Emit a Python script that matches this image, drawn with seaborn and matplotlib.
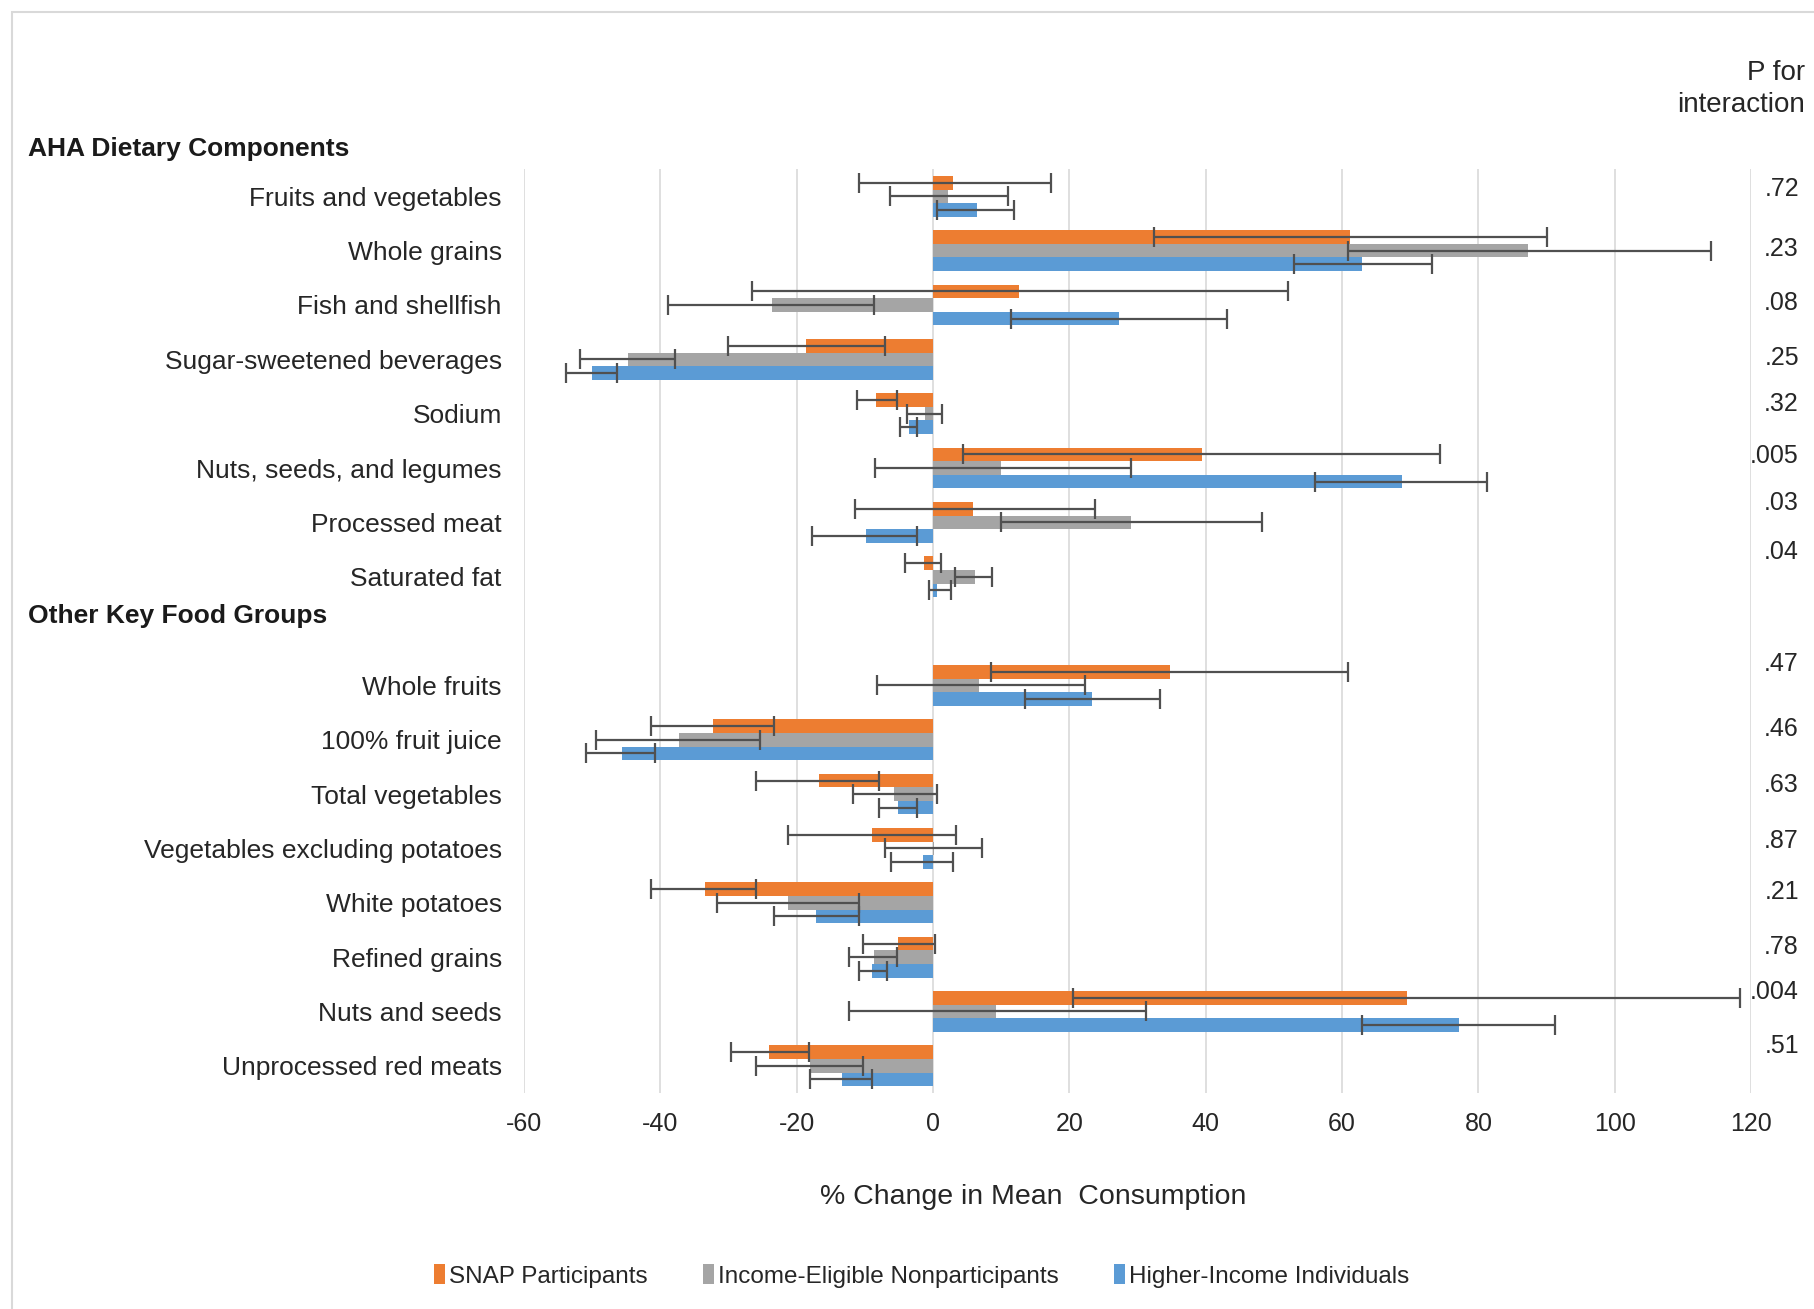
import matplotlib
matplotlib.use('Agg')
import matplotlib.pyplot as plt
import pandas as pd
import seaborn as sns
from matplotlib.patches import Rectangle
from matplotlib.transforms import blended_transform_factory

# categories
aha_items = ["Fruits and vegetables", "Whole grains", "Fish and shellfish",
             "Sugar-sweetened beverages", "Sodium", "Nuts, seeds, and legumes",
             "Processed meat", "Saturated fat"]
other_items = ["Whole fruits", "100% fruit juice", "Total vegetables",
               "Vegetables excluding potatoes", "White potatoes", "Refined grains",
               "Nuts and seeds", "Unprocessed red meats"]
groups = ["SNAP Participants", "Income-Eligible Nonparticipants", "Higher-Income Individuals"]

# % change in mean consumption and 95% CI
snap_pct = [2.9, 61.2, 12.6, -18.7, -8.4, 39.4, 5.8, -1.3,
            34.7, -32.3, -16.8, -9.0, -33.5, -5.1, 69.5, -24.0]
snap_lo = [-10.9, 32.4, -26.6, -30.1, -11.2, 4.4, -11.5, -4.1,
           8.5, -41.4, -26.0, -21.3, -41.4, -10.3, 20.6, -29.6]
snap_hi = [17.3, 90.0, 52.0, -7.0, -5.3, 74.4, 23.8, 1.2,
           60.9, -23.3, -8.0, 3.3, -26.0, 0.3, 118.4, -18.2]

elig_pct = [2.2, 87.3, -23.6, -44.7, -1.2, 10.0, 29.1, 6.1,
            6.7, -37.3, -5.7, 0.2, -21.3, -8.6, 9.3, -18.0]
elig_lo = [-6.3, 60.9, -38.9, -51.8, -3.8, -8.5, 10.0, 3.2,
           -8.2, -49.4, -11.8, -7.0, -31.7, -12.4, -12.4, -26.0]
elig_hi = [11.0, 114.1, -8.6, -37.8, 1.3, 29.1, 48.2, 8.6,
           22.3, -25.4, 0.6, 7.2, -10.9, -5.3, 31.2, -10.3]

high_pct = [6.5, 62.9, 27.3, -50.0, -3.5, 68.8, -9.9, 0.6,
            23.3, -45.6, -5.1, -1.5, -17.2, -9.0, 77.1, -13.3]
high_lo = [0.6, 53.0, 11.5, -53.8, -4.9, 56.1, -17.7, -0.6,
           13.5, -50.9, -8.0, -6.2, -23.3, -10.9, 62.9, -18.0]
high_hi = [11.9, 73.2, 43.1, -46.4, -2.4, 81.3, -2.4, 2.6,
           33.3, -40.8, -2.4, 2.9, -10.9, -6.7, 91.3, -8.9]

p_values = [".72", ".23", ".08", ".25", ".32", ".005", ".03", ".04",
            ".47", ".46", ".63", ".87", ".21", ".78", ".004", ".51"]

colors = ["#ED7D31", "#A5A5A5", "#5B9BD5"]

sns.set_theme(style='white')
plt.rcParams['font.family'] = ['Liberation Sans', 'DejaVu Sans']
plt.rcParams['axes.unicode_minus'] = False

items = aha_items + other_items
order = aha_items + [' '] + other_items

rows = []
for g, vals, lo, hi in zip(groups, [snap_pct, elig_pct, high_pct],
                           [snap_lo, elig_lo, high_lo], [snap_hi, elig_hi, high_hi]):
    for it, v, l, h in zip(items, vals, lo, hi):
        rows.append({'item': it, 'group': g, 'pct': v, 'lo': l, 'hi': h})
df = pd.DataFrame(rows)

fig = plt.figure(figsize=(18.14, 13.09), dpi=100)
ax = fig.add_axes([0.2889, 0.165, 0.6764, 0.7058])
sns.barplot(data=df, x='pct', y='item', hue='group', order=order, hue_order=groups,
            palette=colors, saturation=1, width=0.75, gap=0, errorbar=None,
            orient='h', ax=ax, linewidth=0)

# CI whiskers on top of the bars
ci = df.set_index(['group', 'item'])
for g, cont in zip(groups, list(ax.containers)):
    for bar in cont:
        yc = bar.get_y() + bar.get_height() / 2
        it = order[int(round(yc))]
        v = ci.loc[(g, it), 'pct']
        lo = ci.loc[(g, it), 'lo']
        hi = ci.loc[(g, it), 'hi']
        ax.errorbar(v, yc, xerr=[[v - lo], [hi - v]], fmt='none', ecolor='#505050',
                    elinewidth=1.6, capsize=7, capthick=1.6, zorder=5)

ax.set_ylim(len(order) - 0.5, -0.5)
ax.set_xlim(-60, 120)
ax.set_xticks(range(-60, 121, 20))
ax.xaxis.grid(True, color='#D9D9D9', linewidth=1.2)
ax.yaxis.grid(False)
ax.set_axisbelow(True)
for s in ax.spines.values():
    s.set_visible(False)
ax.tick_params(axis='y', length=0, pad=16, labelsize=19, labelcolor='#262626')
ax.tick_params(axis='x', length=0, pad=14, labelsize=18, labelcolor='#262626')
ax.set_ylabel('')
ax.set_xlabel('% Change in Mean  Consumption', fontsize=20.5, color='#262626')
ax.xaxis.set_label_coords(0.415, -0.098)

# p for interaction column
tr = blended_transform_factory(fig.transFigure, ax.transData)
p_shift = [-0.14, -0.03, -0.03, -0.03, -0.18, -0.22, -0.35, -0.46,
           -0.39, -0.20, -0.16, -0.13, -0.20, -0.19, -0.35, -0.37]
p_rows = [order.index(it) for it in items]
for p, r, s in zip(p_values, p_rows, p_shift):
    ax.text(0.9917, r + s, p, transform=tr, ha='right', va='center',
            fontsize=18, color='#262626')
fig.text(0.9950, 1 - 89 / 1309, 'P for\ninteraction', ha='right', va='center',
         multialignment='right', fontsize=20, color='#262626', linespacing=1.35)

# section headers
ax.text(0.0154, -0.87, 'AHA Dietary Components', transform=tr, ha='left', va='center',
        fontsize=19, fontweight='bold', color='#1a1a1a')
ax.text(0.0154, 7.72, 'Other Key Food Groups', transform=tr, ha='left', va='center',
        fontsize=19, fontweight='bold', color='#1a1a1a')

# legend
handles, labels = ax.get_legend_handles_labels()
ax.get_legend().remove()
fig.legend(handles, labels, loc='center', bbox_to_anchor=(0.508, 1 - 1276 / 1309), ncol=3,
           frameon=False, handlelength=0.45, handleheight=0.9, handletextpad=0.15,
           columnspacing=2.3, fontsize=17.5, labelcolor='#262626')

# chart frame
fig.patches.append(Rectangle((12 / 1814, -0.02), 1.0, 1 - 12 / 1309 + 0.02,
                             transform=fig.transFigure, fill=False,
                             edgecolor='#D9D9D9', linewidth=1.5))

fig.savefig('out.png', dpi=100)
